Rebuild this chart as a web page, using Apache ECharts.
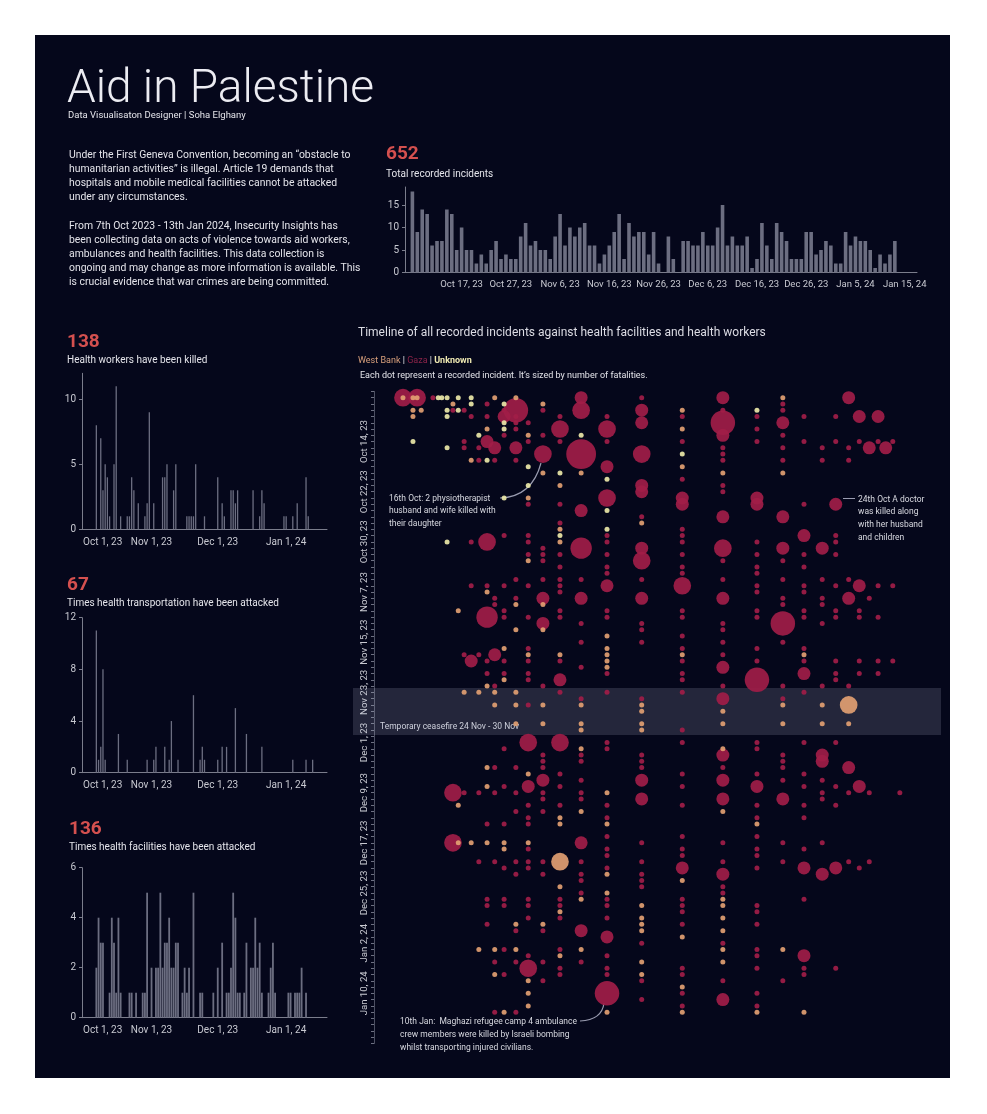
<!DOCTYPE html>
<html>
<head>
<meta charset="utf-8">
<title>Aid in Palestine</title>
<script src="https://cdn.jsdelivr.net/npm/echarts@6/dist/echarts.min.js"></script>
<style>
  html, body { margin: 0; padding: 0; background: #ffffff; }
  #wrap { position: relative; width: 987px; height: 1114px; }
  #panel { position: absolute; left: 35px; top: 35px; width: 915px; height: 1043px; background: #05071b; }
  #chart { position: absolute; left: 0; top: 0; width: 987px; height: 1114px; }
</style>
</head>
<body>
<div id="wrap">
  <div id="panel"></div>
  <div id="chart"></div>
</div>
<script>
const MONTHS = ['Jan', 'Feb', 'Mar', 'Apr', 'May', 'Jun', 'Jul', 'Aug', 'Sep', 'Oct', 'Nov', 'Dec']

// total recorded incidents per day, 7 Oct 2023 -> 13 Jan 2024
const dailyIncidents = [
  18, 9, 14, 13, 6, 7, 7, 14, 13, 5, 10, 5, 5, 2, 4, 2, 5, 7, 3, 4,
  3, 3, 8, 11, 6, 7, 5, 5, 3, 8, 13, 6, 10, 8, 10, 11, 6, 6, 2, 4,
  6, 9, 13, 3, 11, 8, 9, 9, 4, 9, 2, 0, 8, 3, 0, 7, 7, 6, 6, 9,
  6, 6, 10, 15, 6, 8, 6, 6, 8, 1, 3, 11, 6, 3, 11, 9, 7, 3, 3, 3,
  9, 9, 4, 5, 7, 6, 2, 2, 9, 6, 8, 7, 7, 5, 1, 4, 2, 4, 7
]

// [days after 1 Oct 2023, count]
const workersKilled = [
  [6, 8], [8, 7], [9, 3], [10, 5], [11, 4], [12, 1], [14, 5], [15, 11], [17, 1],
  [20, 1], [21, 1], [22, 4], [23, 3], [25, 2], [28, 1], [29, 2], [30, 9], [32, 2],
  [36, 4], [37, 4], [38, 5], [41, 3], [42, 5], [47, 1], [48, 1], [49, 1], [50, 1], [51, 5],
  [55, 1], [61, 4], [63, 2], [64, 1], [67, 3], [68, 3], [69, 2], [70, 3], [77, 3],
  [80, 1], [81, 3], [82, 2], [91, 1], [92, 1], [95, 1], [97, 2], [101, 4], [102, 1]
]
const transportAttacks = [
  [6, 11], [7, 1], [8, 2], [9, 8], [10, 1], [16, 3], [20, 1], [29, 1], [32, 1], [33, 2],
  [37, 2], [39, 1], [40, 4], [43, 1], [50, 6], [53, 1], [54, 2], [55, 1], [61, 1], [63, 2],
  [65, 2], [69, 5], [74, 3], [81, 2], [95, 1], [101, 1], [104, 1]
]
const facilityAttacks = [
  [6, 2], [7, 4], [8, 3], [9, 3], [12, 1], [13, 4], [14, 3], [15, 1], [16, 4], [17, 1],
  [21, 1], [22, 1], [24, 1], [27, 1], [28, 1], [29, 5], [31, 2], [33, 2], [34, 2], [35, 5],
  [36, 2], [37, 3], [38, 3], [39, 4], [40, 2], [41, 2], [42, 3], [43, 3], [45, 1], [46, 2],
  [47, 1], [48, 2], [50, 5], [53, 1], [54, 1], [59, 1], [61, 2], [63, 3], [65, 1], [66, 1],
  [67, 2], [68, 5], [69, 4], [70, 1], [71, 1], [73, 1], [74, 3], [76, 2], [77, 2], [78, 4],
  [79, 2], [80, 3], [81, 1], [84, 1], [85, 2], [86, 3], [87, 1], [93, 1], [94, 1], [96, 1],
  [97, 1], [98, 1], [99, 2], [101, 1]
]

// horizontal lane of each incident column in the timeline (0-100 scale)
const lanePos = [
  8.5, 10.2, 10.9, 11.6, 13.6, 14.5, 15.1, 16.0, 17.0, 17.9, 18.9, 20.1, 21.4, 22.8, 24.1,
  25.7, 27.7, 29.8, 32.3, 35.2, 38.8, 43.2, 49.1, 56.0, 62.9, 68.7, 73.1, 76.7, 79.8, 82.1,
  84.3, 86.1, 87.8, 89.3, 90.6, 91.8, 93.0
]

// one string per day from 7 Oct 2023; token = lane + region (g Gaza, w West Bank, u Unknown) + fatalities
const incidentRows = [
  '0g2 0w 1w 2g2 2w 4g 5u 6u 7u 9u 11u 14w 16w 20g1 22g 24g1 26w 30g1',
  '8w 11u 13g 15u 18w 26g',
  '1w 3w 7u 8g 9u 10g 15g 16g4 18g 20g2 22g1 23w 24g 25u 26g',
  '1w 7u 11g 13g 15g1 16g 19g 21g 23g 25g 27g 29g 31g1 33g1',
  '15u 16g 17g 22g1 24g4 26g1',
  '13w 15u 16g 19g2 21g2 23w 25g',
  '12u 15g 17w 18g 20u 24g1 26g',
  '1u 10g 13g1 17g 19g 21g 23g 25g 27g 29g 31g 33g 35g',
  '7u 10g 12g 14g1 16g1 24g 26g 28g 30g 32g1 34g1',
  '18g2 20g6 22g2 23u 24g',
  '11w 12g 13u 14g 16g 24g 26g 28g 30g',
  '17u 21g1 23w',
  '18w 19u 20w 24w 26w',
  '21u 23g',
  '17u 19w 22g1 24g',
  '22g1 24g',
  '15u 17w 21g2 23g1 25g1',
  '17g 19g 23g1 25g1 27g 29g1',
  '20g1 21u',
  '22g 24g1 26g1',
  '19g 22w',
  '19w 21u 23g',
  '15g 17g 19u 21g 23g 27g1 29g',
  '7u 11g 13g2 17g 19w 21g 23g 25g 29g',
  '18g 20g3 22g1 24g2 26g1 28g1',
  '17g 18g 19g 21g 23g 25g 27g 29g',
  '17w 18g 22g2 24g 26g',
  '19g 21g 23g 25g 27g',
  '21g 23g 25g',
  '16g 18g 19g 20g 22g 24g 26g 28g 30g',
  '11g 13g 15g 17g 19g 21g1 23g2 25g 27g 29g 31g1 33g 35g',
  '13w 19g 25g 27g',
  '14g 16g 18g1 20g1 22g1 24g1 26g 28g 30g1 32g',
  '14g 16w 18w 26g 28g',
  '9w 15g 19g 21g 23g 25g 27g 29g 31g',
  '13g3 15g 17g 19g 21g 23g 25g 27g 29g 31g 33g',
  '18g1 20g 22g 24g 26g4 28g',
  '16w 18w 22g 24g',
  '21w 23g',
  '20g 22g 24g 26g',
  '15w 17g 21w 23g 25g 27g',
  '10g 12g 14g1 17w 19w 21w 23w 24g 27w',
  '11g1 13g 15g 17g 19g 21w 23g 25g 27g 29g 31g 33g 35g',
  '20g 21w 24g1',
  '13g 15g 17g 21g 23g 27g1 29g 31g 33g',
  '15w 17g 19g1 23g 25g4 29g',
  '13w 14g 18g 24g 26g 28g 30g',
  '10w 12w 14w 16w 19g 21g 23g 27g',
  '20g 22g 24g1 26g',
  '14w 16w 17g 18w 20w 22w 26w 28w 30w2',
  '22w 24w',
  '',
  '16w 18w 20w 22w 24w 26w 28w 30w',
  '20w 22w 23g',
  '',
  '17g2 19g2 21g 23g 25g 27g 29g',
  '15g 20w 21g 24w 25g',
  '18g 20g 22g 24g1 26g 28g1',
  '18g 20g 22g 26g 28g1',
  '13w 14g 16g 18g 22g 24g 26g 30g1',
  '17w 19g 23g 25g 27g',
  '18g1 20g 22g1 24g1 26g 28g',
  '13w 15g 17g1 19g 23g 25g1 27g 29g 31g1',
  '8g2 10g 12g 14g 16g 18g 20g 21w 28g 30g 32g 36g',
  '18g 20g 22g1 24g1 26g1 28g',
  '9w 17g 19g 21g 23g 25g 27g 29g',
  '16g 18g 20w 24w',
  '17g 19w 21g 25g 27g',
  '13g 15g 17g 19w 21w 25w',
  '',
  '21g 23g 25g',
  '8g2 9w 11w 13w 15w 17w 20g1 22g 24g 26g 28g',
  '15w 17g 21g 23g 25g 27g',
  '21g 23g 25g',
  '12g 14g 16g 17g 18g 19w2 20g 22g 24g 26g 30g 32g',
  '15g 17g 21g 23g1 25g 27g1 29g1 31g',
  '16g 18g 20g 21w 22g 24g1 28g1',
  '20g 22g 23w',
  '19w 22g 24g',
  '20g 21w 24g',
  '13g 15g 17g 19g 20w 21g 23g 24w 27g',
  '13g 15g 17g 19g 21g 22w 23g 24w 25g',
  '19w 23g 25g',
  '17g 19g 21g 22w 24w',
  '13g 16w 18w 22w 23g 25g',
  '16g 18g 20g1 22w 24w',
  '21g1 23w',
  '22g 24g',
  '12w 14w 15g 16w 19g 20w 24w 25g 26w',
  '17g 19w 21g 25g 27g1',
  '14g 16g 18g 20g 22w 24w',
  '17g2 19g 21g 23g 25g 27g 29g',
  '14w 15g 19g 21g 22w 23g 27g',
  '17w 18g 22g 24g 26g',
  '23w',
  '17w 21g4 23g 25g',
  '22g 24g1',
  '17w 23g 25g',
  '14g 15w 16g 21w 23w 25w 27w'
]

// temporary ceasefire band on the timeline day axis (days after 6 Oct)
const ceasefireBand = [47.3, 54.8]

const regionColor = { g: '#a11d48', w: '#e2a072', u: '#ebe8a8' }
const textColor = '#e4e4ea'
const axisColor = '#7b7d8c'
const labelColor = '#c8c9d1'
const barColor = '#6c6e81'
const FONT = 'Roboto, "Noto Sans", sans-serif'

const addDays = (base, n) => {
  const d = new Date(base)
  d.setDate(d.getDate() + n)
  return d
}
const fmtDate = (d) => `${MONTHS[d.getMonth()]} ${d.getDate()}, ${String(d.getFullYear()).slice(2)}`

const totalStart = new Date(2023, 9, 6)
const leftStart = new Date(2023, 9, 1)
const dotStart = new Date(2023, 9, 6)

const totalDays = Array.from({ length: 104 }, (_, i) => fmtDate(addDays(totalStart, i)))
const totalData = totalDays.map((_, i) => (i >= 1 && i <= dailyIncidents.length ? dailyIncidents[i - 1] : null))

const leftDays = Array.from({ length: 111 }, (_, i) => addDays(leftStart, i))
const leftLabels = leftDays.map(fmtDate)
const sparseToSeries = (pairs) => {
  const out = leftDays.map(() => null)
  pairs.forEach(([k, v]) => { out[k] = v })
  return out
}

const dots = []
incidentRows.forEach((row, day) => {
  row.split(' ').filter(Boolean).forEach((tok) => {
    const m = tok.match(/^(\d+)([gwu])(\d*)$/)
    const fatal = m[3] ? Number(m[3]) : 0
    dots.push({
      value: [lanePos[Number(m[1])], day + 1, fatal],
      itemStyle: { color: regionColor[m[2]] }
    })
  })
})
dots.sort((a, b) => b.value[2] - a.value[2])

const leftCharts = [
  { top: 373.3, height: 156, max: 12, interval: 5, data: workersKilled, barWidth: 1.3 },
  { top: 617.7, height: 155, max: 12, interval: 4, data: transportAttacks, barWidth: 1.3 },
  { top: 867.7, height: 150, max: 6, interval: 2, data: facilityAttacks, barWidth: 1.8 }
]

const grids = [{ left: 405, top: 187, width: 512, height: 85.5 }]
const xAxes = [{
  gridIndex: 0,
  type: 'category',
  data: totalDays,
  axisLine: { lineStyle: { color: axisColor } },
  axisTick: { alignWithLabel: true, length: 4, interval: (i) => (i - 1) % 2 === 0, lineStyle: { color: axisColor } },
  axisLabel: {
    interval: (i) => i >= 11 && (i - 11) % 10 === 0,
    color: labelColor, fontSize: 9.5, fontFamily: FONT, margin: 7
  }
}]
const yAxes = [{
  gridIndex: 0,
  type: 'value',
  min: 0,
  max: 19,
  interval: 5,
  axisLine: { show: true, lineStyle: { color: axisColor } },
  axisTick: { show: true, length: 3, lineStyle: { color: axisColor } },
  splitLine: { show: false },
  axisLabel: { showMaxLabel: false, color: labelColor, fontSize: 10, fontFamily: FONT, margin: 6 }
}]
const series = [{
  type: 'bar',
  xAxisIndex: 0,
  yAxisIndex: 0,
  data: totalData,
  barWidth: 3.6,
  itemStyle: { color: barColor },
  silent: true
}]

leftCharts.forEach((c, n) => {
  const gi = n + 1
  grids.push({ left: 82, top: c.top, width: 245, height: c.height })
  xAxes.push({
    gridIndex: gi,
    type: 'category',
    data: leftLabels,
    axisLine: { lineStyle: { color: axisColor } },
    axisTick: { alignWithLabel: true, length: 4, interval: (i) => leftDays[i].getDate() === 1, lineStyle: { color: axisColor } },
    axisLabel: {
      interval: (i) => leftDays[i].getDate() === 1,
      alignMinLabel: 'left',
      color: labelColor, fontSize: 10, fontFamily: FONT, margin: 8
    }
  })
  yAxes.push({
    gridIndex: gi,
    type: 'value',
    min: 0,
    max: c.max,
    interval: c.interval,
    axisLine: { show: true, lineStyle: { color: axisColor } },
    axisTick: { show: true, length: 3, lineStyle: { color: axisColor } },
    splitLine: { show: false },
    axisLabel: { showMaxLabel: c.max % c.interval === 0, color: labelColor, fontSize: 10, fontFamily: FONT, margin: 6 }
  })
  series.push({
    type: 'bar',
    xAxisIndex: gi,
    yAxisIndex: gi,
    data: sparseToSeries(c.data),
    barWidth: c.barWidth,
    itemStyle: { color: barColor },
    silent: true
  })
})

// timeline of incidents
grids.push({ left: 353, top: 391.4, width: 588, height: 652.1 })
xAxes.push({ gridIndex: 4, type: 'value', min: 0, max: 100, show: false })
yAxes.push({
  gridIndex: 4,
  type: 'value',
  inverse: true,
  min: 0,
  max: 104,
  interval: 8,
  offset: -21,
  axisLine: { show: true, lineStyle: { color: '#4c4f62' } },
  axisTick: { show: true, length: 3, lineStyle: { color: '#6d7082' } },
  minorTick: { show: true, splitNumber: 8, length: 3, lineStyle: { color: '#6d7082' } },
  splitLine: { show: false },
  axisLabel: {
    rotate: 90,
    showMinLabel: false,
    showMaxLabel: false,
    formatter: (v) => fmtDate(addDays(dotStart, v)),
    color: labelColor, fontSize: 9.6, fontFamily: FONT, margin: 4
  }
})
series.push({
  type: 'scatter',
  xAxisIndex: 4,
  yAxisIndex: 4,
  data: dots,
  symbolSize: (val) => Math.sqrt(25 + 144 * val[2]),
  itemStyle: { opacity: 0.92 },
  silent: true,
  markArea: {
    silent: true,
    itemStyle: { color: 'rgba(190, 196, 222, 0.17)' },
    label: { show: false },
    data: [[{ yAxis: ceasefireBand[0] }, { yAxis: ceasefireBand[1] }]]
  }
})

const txt = (x, y, text, size, extra = {}) => ({
  type: 'text',
  silent: true,
  style: Object.assign({
    x, y, text,
    fill: textColor,
    font: `${size}px ${FONT}`,
    textVerticalAlign: 'middle'
  }, extra)
})

const graphics = [
  txt(67, 90, 'Aid in Palestine', 46, { font: `300 46px ${FONT}`, fill: '#ececf2' }),
  txt(68, 116, 'Data Visualisaton Designer | Soha Elghany', 9.5),
  txt(69, 148, 'Under the First Geneva Convention, becoming an \u201cobstacle to\nhumanitarian activities\u201d is illegal. Article 19 demands that\nhospitals and mobile medical facilities cannot be attacked\nunder any circumstances.', 10.4, { textVerticalAlign: 'top', lineHeight: 14.2 }),
  txt(69, 219, 'From 7th Oct 2023 - 13th Jan 2024, Insecurity Insights has\nbeen collecting data on acts of violence towards aid workers,\nambulances and health facilities. This data collection is\nongoing and may change as more information is available. This\nis crucial evidence that war crimes are being committed.', 10.4, { textVerticalAlign: 'top', lineHeight: 14.2 }),
  txt(386, 154, '652', 19, { font: `bold 19px ${FONT}`, fill: '#d4504f' }),
  txt(386, 174, 'Total recorded incidents', 10),
  txt(67, 342, '138', 19, { font: `bold 19px ${FONT}`, fill: '#d4504f' }),
  txt(67, 360, 'Health workers have been killed', 10),
  txt(67, 585, '67', 19, { font: `bold 19px ${FONT}`, fill: '#d4504f' }),
  txt(67, 603, 'Times health transportation have been attacked', 10),
  txt(69, 829, '136', 19, { font: `bold 19px ${FONT}`, fill: '#d4504f' }),
  txt(69, 847, 'Times health facilities have been attacked', 10),
  txt(358, 333, 'Timeline of all recorded incidents against health facilities and health workers', 12, { fill: '#dcdce4' }),
  txt(358, 361, '{w|West Bank} | {g|Gaza} | {u|Unknown}', 9, {
    rich: {
      w: { fill: '#d9a07c', font: `9px ${FONT}` },
      g: { fill: '#8c2449', font: `9px ${FONT}` },
      u: { fill: '#efe9b2', font: `bold 9px ${FONT}` }
    }
  }),
  txt(360, 376, 'Each dot represent a recorded incident. It\u2019s sized by number of fatalities.', 9),
  txt(380, 727, 'Temporary ceasefire 24 Nov - 30 Nov', 8.5, { fill: '#d2d3dc' }),
  txt(389, 498, '16th Oct: 2 physiotherapist\nhusband and wife killed with\ntheir daughter', 8.5, { textVerticalAlign: 'top', y: 492, lineHeight: 12.8, fill: '#d8d9e0' }),
  txt(858, 493, '24th Oct A doctor\nwas killed along\nwith her husband\nand children', 8.5, { textVerticalAlign: 'top', lineHeight: 12.8, fill: '#d8d9e0' }),
  txt(400, 1015, '10th Jan:  Maghazi refugee camp 4 ambulance\ncrew members were killed by Israeli bombing\nwhilst transporting injured civilians.', 8.5, { textVerticalAlign: 'top', lineHeight: 13, fill: '#d8d9e0' }),
  {
    type: 'bezierCurve', silent: true,
    shape: { x1: 500, y1: 498, x2: 541, y2: 463, cpx1: 532, cpy1: 497 },
    style: { stroke: '#9a9cb0', lineWidth: 1.2, fill: null }
  },
  {
    type: 'line', silent: true,
    shape: { x1: 843, y1: 498.5, x2: 855, y2: 498.5 },
    style: { stroke: '#9a9cb0', lineWidth: 1 }
  },
  {
    type: 'bezierCurve', silent: true,
    shape: { x1: 580, y1: 1021, x2: 604, y2: 1003, cpx1: 602, cpy1: 1020 },
    style: { stroke: '#9a9cb0', lineWidth: 1.2, fill: null }
  }
]

const chart = echarts.init(document.getElementById('chart'), null, { renderer: 'canvas' })
chart.setOption({
  backgroundColor: 'transparent',
  animation: false,
  textStyle: { fontFamily: FONT },
  grid: grids,
  xAxis: xAxes,
  yAxis: yAxes,
  series,
  graphic: { elements: graphics }
})
</script>
</body>
</html>
